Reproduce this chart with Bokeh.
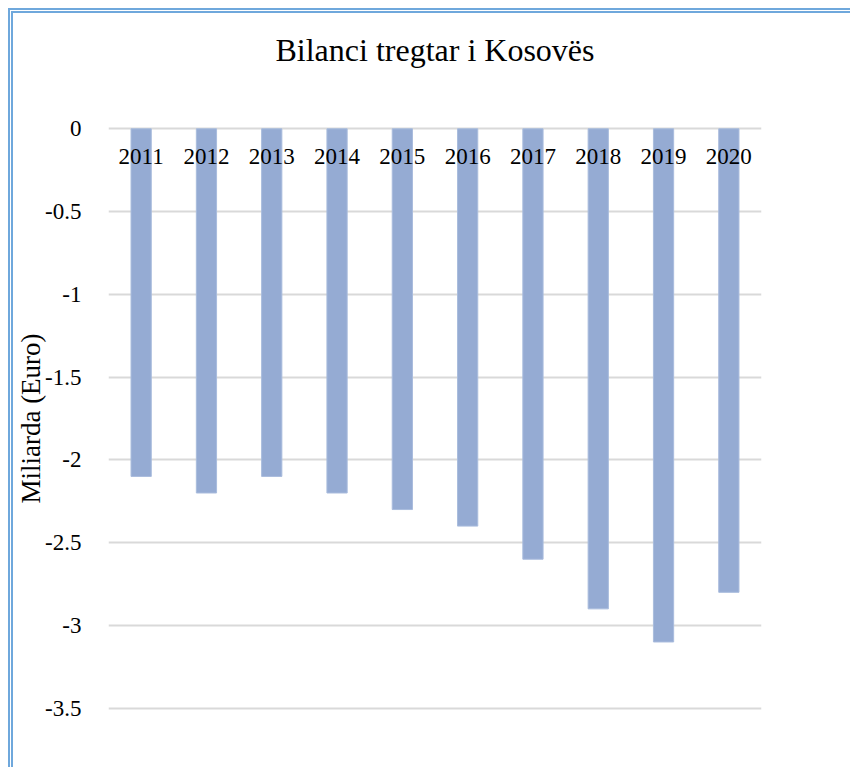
from bokeh.plotting import figure
from bokeh.models import Range1d, FactorRange, FixedTicker, NumeralTickFormatter, ColumnDataSource, Title
from bokeh.core.properties import value
from bokeh.embed import file_html
from bokeh.resources import INLINE

years = ["2011", "2012", "2013", "2014", "2015", "2016", "2017", "2018", "2019", "2020"]
balance = [-2.1, -2.2, -2.1, -2.2, -2.3, -2.4, -2.6, -2.9, -3.1, -2.8]
y_ticks = [0, -0.5, -1, -1.5, -2, -2.5, -3, -3.5]
title_text = "Bilanci tregtar i Kosovës"
y_label = "Miliarda (Euro)"

FONT = "Liberation Serif"

src = ColumnDataSource(dict(x=years, top=[0] * len(years), bottom=balance, label=years))

p = figure(
    x_range=FactorRange(*years, range_padding=0),
    y_range=Range1d(-3.52, 0.02),
    width=837, height=754,
    frame_width=653, frame_height=586,
    min_border_left=87, min_border_top=112, min_border_right=97, min_border_bottom=56,
    output_backend="svg", toolbar_location=None,
)
p.styles = {"margin-left": "8px", "margin-top": "8px",
            "border-left": "5px double #6fa8dc", "border-top": "5px double #6fa8dc"}

# blank spacer between the title and the plot frame
spacer = Title(text=" ", text_font=FONT, text_font_size="10px", standoff=45)
p.add_layout(spacer, "above")

p.title = Title(text=title_text, align="center", standoff=0,
                text_font=FONT, text_font_size="32px", text_font_style="normal",
                text_color="#000000")

p.vbar(x="x", top="top", bottom="bottom", width=0.31, source=src,
       fill_color="#95abd3", line_color="#a9bcdd", line_width=1)

p.text(x="x", y=0, text="label", source=src, y_offset=20,
       text_align="center", text_baseline="top",
       text_font=value(FONT), text_font_size="23px", text_color="#000000")

p.xaxis.visible = False
p.xgrid.grid_line_color = None
p.ygrid.grid_line_color = "#d9d9d9"
p.ygrid.grid_line_width = 2
p.ygrid.ticker = FixedTicker(ticks=y_ticks)

ax = p.yaxis[0]
ax.ticker = FixedTicker(ticks=y_ticks)
ax.formatter = NumeralTickFormatter(format="0.[0]")
ax.axis_line_color = None
ax.major_tick_line_color = None
ax.minor_tick_line_color = None
ax.major_label_text_font = FONT
ax.major_label_text_font_size = "23px"
ax.major_label_text_color = "#000000"
ax.major_label_standoff = 21
ax.axis_label = y_label
ax.axis_label_text_font = FONT
ax.axis_label_text_font_size = "27px"
ax.axis_label_text_font_style = "normal"
ax.axis_label_text_color = "#000000"
ax.axis_label_standoff = -4

p.outline_line_color = None
p.background_fill_color = "white"
p.border_fill_color = "white"

open("out.html", "w").write(file_html(p, INLINE))
